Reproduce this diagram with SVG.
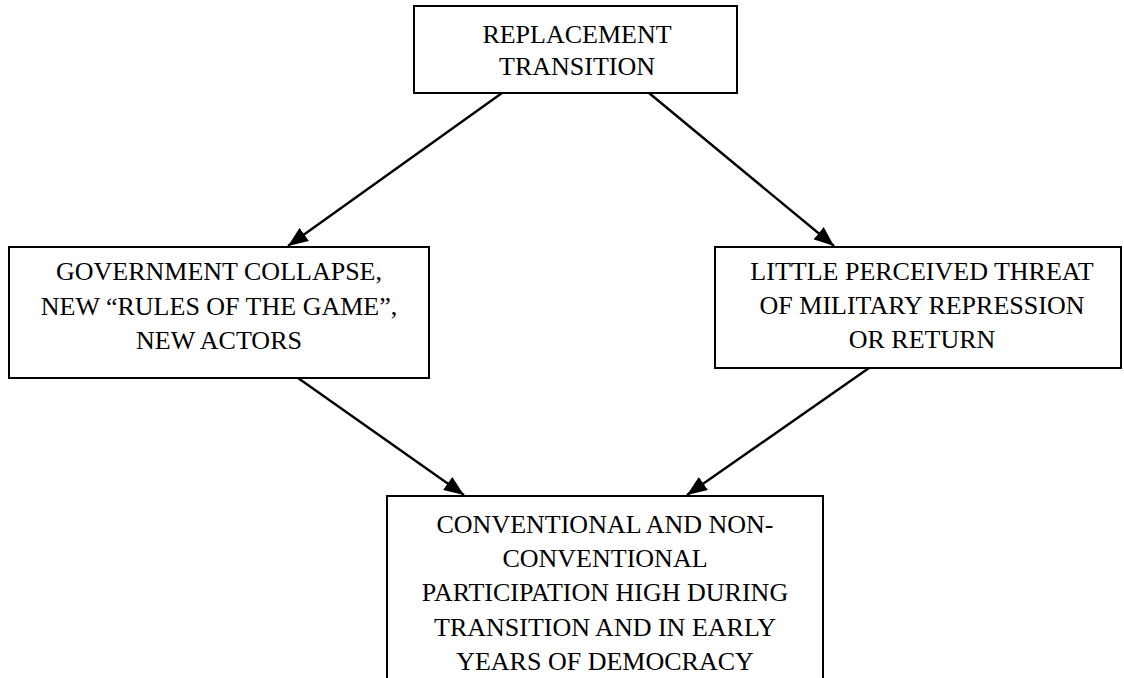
<svg xmlns="http://www.w3.org/2000/svg" width="1124" height="678" viewBox="0 0 1124 678">
  <style>
    .box { fill: #ffffff; stroke: #000000; stroke-width: 2; }
    .label { font-family: "Liberation Serif", "Times New Roman", serif; font-size: 26px; fill: #000000; text-anchor: middle; }
    .edge { stroke: #000000; stroke-width: 2.4; fill: none; marker-end: url(#arrow); }
  </style>
  <defs>
    <marker id="arrow" markerUnits="userSpaceOnUse" markerWidth="20" markerHeight="16" viewBox="0 0 20 16" refX="20" refY="8" orient="auto">
      <path d="M0,0 L20,8 L0,16 Z" fill="#000000"/>
    </marker>
  </defs>

  <g id="connectors">
    <line class="edge" x1="502" y1="93" x2="288" y2="246"/>
    <line class="edge" x1="649" y1="93" x2="834" y2="246"/>
    <line class="edge" x1="298" y1="378" x2="464" y2="495"/>
    <line class="edge" x1="869" y1="368" x2="687" y2="495"/>
  </g>

  <g id="replacement-transition">
    <rect class="box" x="414" y="6" width="323" height="87"/>
    <text class="label" x="577" y="43">REPLACEMENT</text>
    <text class="label" x="577" y="75">TRANSITION</text>
  </g>

  <g id="government-collapse">
    <rect class="box" x="9" y="247" width="420" height="131"/>
    <text class="label" x="219" y="280">GOVERNMENT COLLAPSE,</text>
    <text class="label" x="219" y="315">NEW “RULES OF THE GAME”,</text>
    <text class="label" x="219" y="349">NEW ACTORS</text>
  </g>

  <g id="little-threat">
    <rect class="box" x="715" y="247" width="406" height="121"/>
    <text class="label" x="922" y="280">LITTLE PERCEIVED THREAT</text>
    <text class="label" x="922" y="314">OF MILITARY REPRESSION</text>
    <text class="label" x="922" y="348">OR RETURN</text>
  </g>

  <g id="participation-high">
    <rect class="box" x="387" y="496" width="436" height="200"/>
    <text class="label" x="605" y="533">CONVENTIONAL AND NON-</text>
    <text class="label" x="605" y="567">CONVENTIONAL</text>
    <text class="label" x="605" y="601">PARTICIPATION HIGH DURING</text>
    <text class="label" x="605" y="636">TRANSITION AND IN EARLY</text>
    <text class="label" x="605" y="670">YEARS OF DEMOCRACY</text>
  </g>
</svg>
